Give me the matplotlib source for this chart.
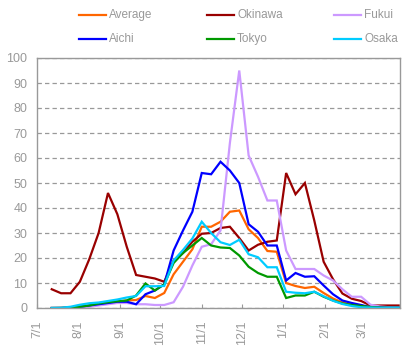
import matplotlib
matplotlib.use("Agg")
import matplotlib.pyplot as plt
import matplotlib.dates as mdates
from matplotlib.lines import Line2D
import numpy as np
import datetime as dt

# weekly data, first week Jul 12, 2020
start = dt.date(2020, 7, 12)
n_weeks = 38
weeks = [start + dt.timedelta(days=7 * i) for i in range(n_weeks)]

average = [0, 0.1, 0.3, 0.5, 0.8, 1.5, 2, 2.5, 3, 3.2, 4.8, 4, 6, 13.5, 18.5, 23.5, 32.5, 32.5, 34.5, 38.5,
           39, 31.5, 28, 22.8, 22.5, 10, 8.8, 8, 8.5, 6, 3.8, 2.2, 1.3, 0.8, 0.3, 0.2, 0.1, 0.1]
okinawa = [7.5, 5.9, 5.9, 10.5, 19.5, 30, 46, 37.5, 24.5, 13.2, 12.5, 11.8, 10.5, 19, 22, 26.5, 29.7, 30, 32, 32.5,
           28, 23, 25.3, 26.5, 27, 54, 45.5, 50, 35, 18.5, 11.5, 5.8, 3.7, 2.8, 1, 1, 1, 1]
fukui = [0, 0, 0, 0.3, 0.5, 1, 1.5, 2, 2, 1.5, 1.5, 1.2, 1.2, 2.3, 8.5, 17, 24.5, 25.5, 31, 66,
         95, 61, 52.5, 43, 43, 23, 15.6, 15.6, 15.6, 13, 11, 7.5, 4.5, 4.5, 1.3, 0.6, 0.3, 0.2]
aichi = [0, 0, 0.2, 0.5, 1, 1.5, 2, 2.5, 2.5, 1.5, 5.5, 7, 9.5, 23, 31, 38.5, 54, 53.5, 58.5, 55,
         50, 33.5, 30.5, 25, 25, 11, 14, 12.5, 12.7, 9, 5.5, 3, 2, 1.2, 0.3, 0.2, 0.1, 0.1]
tokyo = [0, 0, 0.1, 0.5, 1, 1.8, 2.3, 2.7, 3, 5, 9.8, 7, 9.5, 18, 22, 25, 28, 25, 24.2, 24,
         21, 16.5, 14, 12.5, 12.5, 4, 5, 5, 6.5, 4.5, 3, 1.8, 1.2, 0.8, 0.4, 0.2, 0.1, 0.1]
osaka = [0, 0.1, 0.5, 1.3, 1.9, 2.2, 2.8, 3.4, 4.2, 4.8, 8.7, 8.7, 8.8, 19, 23.2, 27.8, 34.5, 30, 26.3, 25.2,
         27.3, 21.5, 20.3, 16.3, 16.3, 6.5, 6.1, 5.9, 6.5, 4.7, 2.9, 1.6, 0.8, 0.3, 0.2, 0.1, 0.1, 0.1]

series_names = ["Average", "Okinawa", "Fukui", "Aichi", "Tokyo", "Osaka"]
series_vals = [average, okinawa, fukui, aichi, tokyo, osaka]
colors = ["#FF6600", "#990000", "#CC99FF", "#0000FF", "#009900", "#00CCFF"]

month_ticks = [dt.date(2020, 7, 1), dt.date(2020, 8, 1), dt.date(2020, 9, 1), dt.date(2020, 10, 1),
               dt.date(2020, 11, 1), dt.date(2020, 12, 1), dt.date(2021, 1, 1), dt.date(2021, 2, 1),
               dt.date(2021, 3, 1)]
month_labels = ["7/1", "8/1", "9/1", "10/1", "11/1", "12/1", "1/1", "2/1", "3/1"]
y_ticks = [0, 10, 20, 30, 40, 50, 60, 70, 80, 90, 100]

W, H = 419, 359
fig = plt.figure(figsize=(W / 100, H / 100), dpi=100)
fig.patch.set_facecolor("white")

left, right, top, bottom = 37, 400, 58, 308
ax = fig.add_axes([left / W, 1 - bottom / H, (right - left) / W, (bottom - top) / H])

grey = "#999999"
for name, vals, c in zip(series_names, series_vals, colors):
    ax.plot(weeks, vals, color=c, lw=1.6, solid_joinstyle="miter")

ax.set_xlim(dt.date(2020, 7, 1), dt.date(2021, 3, 29))
ax.set_ylim(0, 100)
ax.set_yticks(y_ticks)
ax.set_yticklabels([str(v) for v in y_ticks])
ax.set_xticks(month_ticks)
ax.set_xticklabels(month_labels, rotation=90, va="top")

ax.yaxis.grid(True, linestyle=(0, (3.5, 2.5)), color=grey, lw=0.9)
ax.set_axisbelow(True)
for s in ax.spines.values():
    s.set_color(grey)
    s.set_linewidth(1.0)

ax.tick_params(axis="y", length=0, pad=7, labelsize=9, labelcolor=grey)
ax.tick_params(axis="x", direction="in", length=3, color=grey, pad=9, labelsize=9, labelcolor=grey)
for lab in ax.get_xticklabels() + ax.get_yticklabels():
    lab.set_fontfamily("Liberation Sans")

# legend, drawn manually in two rows of three
legend_pos = [(79, 15), (207, 15), (334, 15), (79, 39), (207, 39), (334, 39)]
for (px, py), name, c in zip(legend_pos, series_names, colors):
    fig.add_artist(Line2D([px / W, (px + 27) / W], [1 - py / H, 1 - py / H], color=c, lw=1.6,
                          transform=fig.transFigure))
    fig.text((px + 30) / W, 1 - py / H, name, color=grey, fontsize=8.5, family="Liberation Sans",
             va="center", ha="left")

fig.savefig("out.png", dpi=100)
